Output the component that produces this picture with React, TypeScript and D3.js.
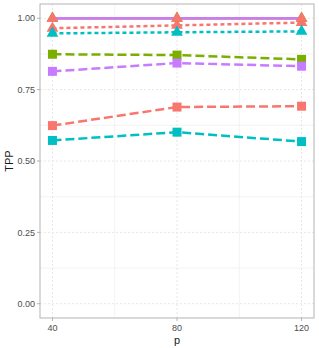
import * as d3 from "d3";

const W = 319;
const H = 348;
const margin = { left: 40, right: 5, top: 4, bottom: 30 };

const pValues = [40, 80, 120];
const yTicks = [0, 0.25, 0.5, 0.75, 1.0];
const yMinor = [0.125, 0.375, 0.625, 0.875];
const xMinor = [60, 100];

const colors = {
  red: "#F8766D",
  green: "#7CAE00",
  cyan: "#00BFC4",
  purple: "#C77CFF",
};

// each series: colour, line type, marker shape, TPP at p = 40, 80, 120
const greenSolid = [1.0, 1.0, 1.0];
const purpleSolid = [1.0, 1.0, 1.0];
const redSolid = [1.0, 1.0, 1.0];
const redDotted = [0.965, 0.975, 0.985];
const cyanDotted = [0.947, 0.951, 0.954];
const greenDashed = [0.874, 0.871, 0.856];
const purpleDashed = [0.814, 0.843, 0.832];
const redDashed = [0.624, 0.689, 0.692];
const cyanDashed = [0.572, 0.601, 0.568];

const series = [
  { key: "rd", color: colors.red, dash: "9,4", shape: "square", values: redDashed },
  { key: "gd", color: colors.green, dash: "9,4", shape: "square", values: greenDashed },
  { key: "cd", color: colors.cyan, dash: "9,4", shape: "square", values: cyanDashed },
  { key: "pd", color: colors.purple, dash: "9,4", shape: "square", values: purpleDashed },
  { key: "rdot", color: colors.red, dash: "4,3", shape: "triangle", values: redDotted },
  { key: "cdot", color: colors.cyan, dash: "4,3", shape: "triangle", values: cyanDotted },
  { key: "gs", color: colors.green, dash: null, shape: "triangle", values: greenSolid },
  { key: "rs", color: colors.red, dash: null, shape: "triangle", values: redSolid },
  { key: "ps", color: colors.purple, dash: null, shape: "none", values: purpleSolid },
];

export default function App() {
  // ggplot-style 5% expansion
  const x = d3.scaleLinear().domain([36, 124]).range([margin.left, W - margin.right]);
  const y = d3.scaleLinear().domain([-0.05, 1.05]).range([H - margin.bottom, margin.top]);

  const line = d3
    .line<number>()
    .x((_, i) => x(pValues[i]))
    .y((d) => y(d));

  const gridColor = "#e6e6e6";
  const font = "Liberation Sans, Arial, sans-serif";

  const marker = (shape: string, cx: number, cy: number, color: string, k: string) => {
    if (shape === "square") {
      return <rect key={k} x={cx - 4.5} y={cy - 4.5} width={9} height={9} fill={color} />;
    }
    if (shape === "triangle") {
      const tri = d3.symbol(d3.symbolTriangle, 60)();
      return <path key={k} d={tri || ""} transform={`translate(${cx},${cy})`} fill={color} />;
    }
    return null;
  };

  return (
    <svg
      width={W}
      height={H}
      style={{ position: "absolute", left: 0, top: 0, background: "white" }}
    >
      {/* minor grid */}
      {yMinor.map((t) => (
        <line key={`ym${t}`} x1={margin.left} x2={W - margin.right} y1={y(t)} y2={y(t)} stroke="#f0f0f0" strokeWidth={0.8} />
      ))}
      {xMinor.map((t) => (
        <line key={`xm${t}`} x1={x(t)} x2={x(t)} y1={margin.top} y2={H - margin.bottom} stroke="#f0f0f0" strokeWidth={0.8} />
      ))}
      {/* major grid */}
      {yTicks.map((t) => (
        <line key={`yg${t}`} x1={margin.left} x2={W - margin.right} y1={y(t)} y2={y(t)} stroke={gridColor} strokeWidth={1} strokeDasharray="2,2" />
      ))}
      {pValues.map((t) => (
        <line key={`xg${t}`} x1={x(t)} x2={x(t)} y1={margin.top} y2={H - margin.bottom} stroke={gridColor} strokeWidth={1} strokeDasharray="2,2" />
      ))}

      {/* lines */}
      {series.map((s) => (
        <path
          key={`l${s.key}`}
          d={line(s.values) || ""}
          fill="none"
          stroke={s.color}
          strokeWidth={2.5}
          strokeDasharray={s.dash || undefined}
        />
      ))}
      {/* points */}
      {series.map((s) =>
        s.values.map((v, i) => marker(s.shape, x(pValues[i]), y(v), s.color, `m${s.key}${i}`))
      )}

      {/* panel border */}
      <rect
        x={margin.left}
        y={margin.top}
        width={W - margin.left - margin.right}
        height={H - margin.top - margin.bottom}
        fill="none"
        stroke="#b3b3b3"
        strokeWidth={1}
      />

      {/* y axis */}
      {yTicks.map((t) => (
        <g key={`yt${t}`}>
          <line x1={margin.left - 3} x2={margin.left} y1={y(t)} y2={y(t)} stroke="#b3b3b3" />
          <text x={margin.left - 5} y={y(t)} dy="0.35em" textAnchor="end" fontSize={9} fill="#4d4d4d" fontFamily={font}>
            {d3.format(".2f")(t)}
          </text>
        </g>
      ))}
      {/* x axis */}
      {pValues.map((t) => (
        <g key={`xt${t}`}>
          <line x1={x(t)} x2={x(t)} y1={H - margin.bottom} y2={H - margin.bottom + 3} stroke="#b3b3b3" />
          <text x={x(t)} y={H - margin.bottom + 13} textAnchor="middle" fontSize={9} fill="#4d4d4d" fontFamily={font}>
            {t}
          </text>
        </g>
      ))}

      <text x={(margin.left + W - margin.right) / 2} y={H - 4} textAnchor="middle" fontSize={11} fill="#1a1a1a" fontFamily={font}>
        p
      </text>
      <text
        transform={`translate(13,${(margin.top + H - margin.bottom) / 2}) rotate(-90)`}
        textAnchor="middle"
        fontSize={11}
        fill="#1a1a1a"
        fontFamily={font}
      >
        TPP
      </text>
    </svg>
  );
}
